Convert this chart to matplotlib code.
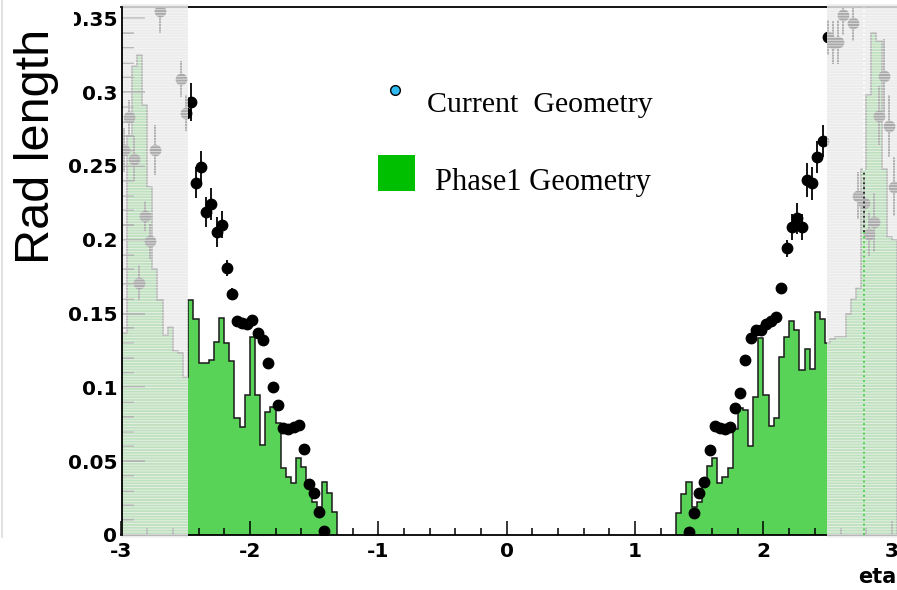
import numpy as np
import matplotlib
matplotlib.use("Agg")
import matplotlib.pyplot as plt
import matplotlib.transforms as mtransforms
from matplotlib.patches import Rectangle
from matplotlib.ticker import MultipleLocator, FuncFormatter

nan = np.nan
BIN_W = 0.04

# Phase1 geometry: material per eta bin, listed from the bin's lower edge
PHASE1_LEFT_START = -3.00
phase1_left = [
    0.137, 0.270, 0.318, 0.325, 0.291, 0.236, 0.180, 0.159, 0.1355, 0.141,
    0.1247, 0.123, 0.1073,
    0.159, 0.146, 0.1163, 0.1163, 0.1186, 0.131, 0.1468, 0.130, 0.118, 0.079,
    0.0734, 0.0949, 0.1344, 0.0949, 0.061, 0.0835, 0.0865, 0.0761, 0.0452,
    0.0395, 0.035, 0.052, 0.0463, 0.0341, 0.0226, 0.0192, 0.0361, 0.0282,
    0.0158,
]
PHASE1_RIGHT_START = 1.32
phase1_right = [
    0.0151, 0.0278, 0.0361, 0.0192, 0.0226, 0.0377, 0.0467, 0.0524, 0.035,
    0.0395, 0.0452, 0.0718, 0.0858, 0.0847, 0.0605, 0.0937, 0.1337, 0.0949,
    0.0738, 0.079, 0.1204, 0.1339, 0.145, 0.1389, 0.1118, 0.126, 0.1125,
    0.1513, 0.1463,
    0.130, 0.133, 0.1344, 0.1344, 0.150, 0.160, 0.167, 0.248, 0.298, 0.340,
    0.335, 0.248, 0.202, 0.200,
]

# Current geometry profile, listed from the first bin centre
CUR_LEFT_START = -2.98
cur_left = [
    0.261, 0.283, 0.255, 0.171, 0.216, 0.199, 0.261, 0.355, nan, nan, nan,
    0.309, 0.286,
    0.2934, 0.2387, 0.2495, 0.2188, 0.2243, 0.2053, 0.2103, 0.181, 0.1635,
    0.1452, 0.1434, 0.143, 0.1457, 0.1366, 0.132, 0.1163, 0.1005, 0.088,
    0.0723, 0.0716, 0.0734, 0.0745, 0.0585, 0.0346, 0.0282, 0.0154, 0.0027,
]
cur_left_err = [
    0.015, 0.012, 0.015, 0.012, 0.010, 0.012, 0.017, 0.015, nan, nan, nan,
    0.012, 0.012,
    0.013, 0.0105, 0.0105, 0.010, 0.011, 0.0099, 0.0094, 0.0056, 0.004,
    0.003, 0.003, 0.003, 0.003, 0.003, 0.002, 0.002, 0.002, 0.002,
    0.002, 0.002, 0.002, 0.002, 0.002, 0.002, 0.002, 0.002, 0.002,
]
CUR_RIGHT_START = 1.42
cur_right = [
    0.0022, 0.0151, 0.0282, 0.0361, 0.0576, 0.0738, 0.0723, 0.0716, 0.0734,
    0.0858, 0.096, 0.1186, 0.1333, 0.1389, 0.1389, 0.143, 0.145, 0.148,
    0.167, 0.1942, 0.2089, 0.2145, 0.2085, 0.2405, 0.2383, 0.2559, 0.2671,
    0.3372, 0.3335, 0.334, 0.352, nan, 0.3467, 0.230, 0.225, 0.204, 0.212,
    0.284, 0.311, 0.277, 0.236,
]
cur_right_err = [
    0.002, 0.002, 0.002, 0.002, 0.002, 0.002, 0.002, 0.002,
    0.003, 0.003, 0.003, 0.003, 0.003, 0.003, 0.003, 0.003, 0.003, 0.003,
    0.004, 0.0059, 0.0088, 0.0104, 0.0087, 0.0113, 0.0113, 0.0107, 0.011,
    0.012, 0.0147, 0.0147, 0.013, nan, 0.012, 0.016, 0.016, 0.015, 0.020,
    0.020, 0.025, 0.021, 0.020,
]

# eta range outside the tracker acceptance, greyed out
ETA_LOW_CUT = -2.48
ETA_HIGH_CUT = 2.495
XMIN, XMAX = -3.0, 3.04
YMAX = 0.3575

GREEN = "#58d358"
LEG_GREEN = "#00bf00"
LEG_BLUE = "#30b8f0"

W, H = 897, 590

plt.rcParams["font.family"] = ["DejaVu Sans"]
plt.rcParams["axes.unicode_minus"] = False
plt.rcParams["hatch.linewidth"] = 0.6

fig = plt.figure(figsize=(W / 100, H / 100), dpi=100)
ax = fig.add_axes([121.5 / W, 1 - 535 / H, (W - 121.5) / W, (535 - 7.3) / H])


def fpos(x, y):
    return x / W, 1 - y / H


def draw_hist(start, vals):
    vals = np.asarray(vals)
    edges = start + BIN_W * np.arange(len(vals) + 1)
    ax.stairs(vals, edges, fill=True, color=GREEN, zorder=1)
    ax.stairs(vals, edges, baseline=0, color="#1a1a1a", lw=1.1, zorder=1.1)


def draw_profile(start, vals, errs):
    vals = np.asarray(vals, dtype=float)
    centres = start + BIN_W * np.arange(len(vals))
    ax.errorbar(centres, vals, yerr=np.asarray(errs, dtype=float), fmt="o",
                color="black", ms=7.5, elinewidth=1.3, capsize=0, zorder=2)


draw_hist(PHASE1_LEFT_START, phase1_left)
draw_hist(PHASE1_RIGHT_START, phase1_right)
draw_profile(CUR_LEFT_START, cur_left, cur_left_err)
draw_profile(CUR_RIGHT_START, cur_right, cur_right_err)

# grey bands over the forward regions
trans = mtransforms.blended_transform_factory(ax.transData, ax.transAxes)
for x0, x1 in [(XMIN, ETA_LOW_CUT), (ETA_HIGH_CUT, XMAX + 0.05)]:
    ax.add_patch(Rectangle((x0, -0.005), x1 - x0, 1.012, transform=trans,
                           facecolor="#e6e6e6", edgecolor="#f8f8f8",
                           hatch="------", lw=0, alpha=0.74,
                           clip_on=False, zorder=3))

# dotted marker line in the forward band
ax.plot([2.78, 2.78], [0, 0.205], ls=":", color="#3fcf3f", lw=1.3, zorder=3.5)
ax.plot([2.78, 2.78], [0.205, 0.247], ls=":", color="#222222", lw=1.3, zorder=3.5)
ax.plot([2.78, 2.78], [0.247, YMAX], ls=":", color="white", lw=1.3, zorder=3.5)

ax.set_xlim(XMIN, XMAX)
ax.set_ylim(0, YMAX)
ax.spines["right"].set_visible(False)
for s in ["left", "top", "bottom"]:
    ax.spines[s].set_linewidth(1.3)
ax.spines["left"].set_zorder(4)

ax.xaxis.set_major_locator(MultipleLocator(1))
ax.xaxis.set_minor_locator(MultipleLocator(0.2))
ax.yaxis.set_major_locator(MultipleLocator(0.05))
ax.yaxis.set_minor_locator(MultipleLocator(0.01))
ax.yaxis.set_major_formatter(FuncFormatter(lambda v, p: f"{v:g}"))
ax.xaxis.set_major_formatter(FuncFormatter(lambda v, p: f"{v:g}"))

ax.tick_params(axis="x", which="major", direction="in", length=10, width=1.1,
               pad=5, labelsize=14.5)
ax.tick_params(axis="x", which="minor", direction="in", length=5, width=1.1)
ax.tick_params(axis="y", which="major", direction="in", length=16.5, width=1.1,
               pad=3, labelsize=14.5)
ax.tick_params(axis="y", which="minor", direction="in", length=8.5, width=1.1)
ax.tick_params(top=False, right=False, which="both")
for lab in ax.get_xticklabels() + ax.get_yticklabels():
    lab.set_fontweight("bold")

fig.text(*fpos(37, 146), "Rad length", rotation=90, ha="center", va="center",
         fontsize=35, fontweight="normal",
         family=["Liberation Sans", "DejaVu Sans"])
fig.text(*fpos(896, 577), "eta", ha="right", va="center", fontsize=15,
         fontweight="bold")

# legend
fig.lines.append(plt.Line2D([395 / W], [1 - 90 / H], marker="o", ms=7,
                            mfc=LEG_BLUE, mec="black", mew=1.0, ls="none",
                            transform=fig.transFigure))
fig.patches.append(Rectangle(fpos(378, 191), 37 / W, 36 / H,
                             facecolor=LEG_GREEN, edgecolor="none",
                             transform=fig.transFigure))
fig.text(*fpos(427, 111.5), "Current  Geometry", ha="left", va="baseline",
         fontsize=21.5, family=["Liberation Serif", "DejaVu Serif"])
fig.text(*fpos(435, 190), "Phase1 Geometry", ha="left", va="baseline",
         fontsize=22, family=["Liberation Serif", "DejaVu Serif"])

# clipped corner of the canvas and its faint left border
fig.patches.append(Rectangle((0, 1 - 29 / H), 74 / W, 29 / H, facecolor="white",
                             edgecolor="none", transform=fig.transFigure,
                             zorder=10))
fig.lines.append(plt.Line2D([1.5 / W, 1.5 / W], [1, 1 - 537 / H],
                            color="#dcdcdc", lw=1.2, transform=fig.transFigure,
                            zorder=11))

fig.savefig("out.png", dpi=100)
